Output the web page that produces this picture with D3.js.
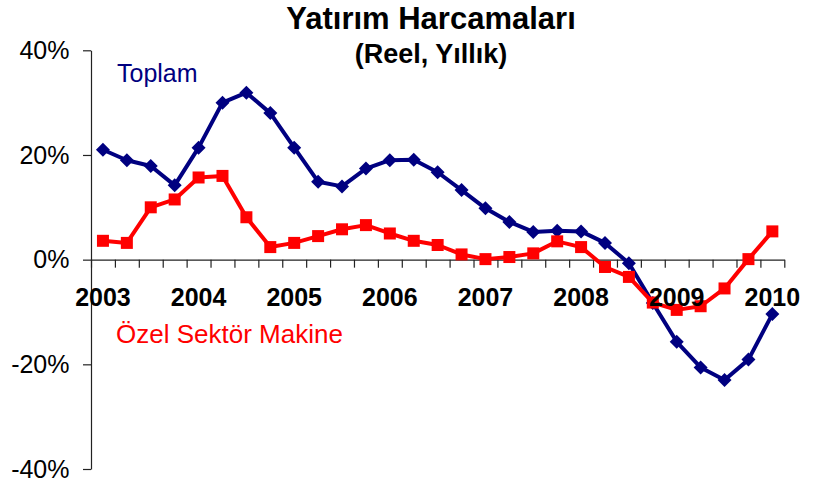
<!DOCTYPE html>
<html>
<head>
<meta charset="utf-8">
<script src="https://cdn.jsdelivr.net/npm/d3@7"></script>
<style>
  html, body { margin: 0; padding: 0; background: #fff; }
  svg { display: block; font-family: "Liberation Sans", Arial, sans-serif; }
</style>
</head>
<body>
<svg id="chart" width="815" height="486"></svg>
<script>
// ---- data ----
const categories = [
  "2003Q1","2003Q2","2003Q3","2003Q4",
  "2004Q1","2004Q2","2004Q3","2004Q4",
  "2005Q1","2005Q2","2005Q3","2005Q4",
  "2006Q1","2006Q2","2006Q3","2006Q4",
  "2007Q1","2007Q2","2007Q3","2007Q4",
  "2008Q1","2008Q2","2008Q3","2008Q4",
  "2009Q1","2009Q2","2009Q3","2009Q4",
  "2010Q1"
];
const toplam = [21.0, 19.0, 17.9, 14.2, 21.4, 30.0, 31.9, 28.0, 21.4, 14.9, 14.0, 17.4, 19.0, 19.1, 16.7, 13.3, 9.8, 7.2, 5.3, 5.5, 5.4, 3.2, -0.7, -8.3, -15.7, -20.6, -23.0, -19.1, -10.4];
const ozel = [3.6, 3.2, 10.0, 11.5, 15.7, 16.0, 8.1, 2.4, 3.2, 4.5, 5.8, 6.6, 5.0, 3.6, 2.8, 1.0, 0.1, 0.5, 1.2, 3.5, 2.4, -1.4, -3.3, -8.2, -9.6, -8.9, -5.5, 0.1, 5.4];
const yearLabels = ["2003","2004","2005","2006","2007","2008","2009","2010"];
const yearCategories = ["2003Q1","2004Q1","2005Q1","2006Q1","2007Q1","2008Q1","2009Q1","2010Q1"];
const yTicks = [-40, -20, 0, 20, 40];
const title = "Yatırım Harcamaları";
const subtitle = "(Reel, Yıllık)";
const seriesNames = ["Toplam", "Özel Sektör Makine"];

// ---- layout ----
const svg = d3.select("#chart");
const plotLeft = 91, plotRight = 784.3, plotTop = 50.3, plotBottom = 469;
const colBlue = "#000080", colRed = "#ff0000", axisCol = "#222";

const x = d3.scaleBand().domain(categories).range([plotLeft, plotRight]).padding(0);
const xc = c => x(c) + x.bandwidth() / 2;
const xBound = d3.scaleLinear().domain([0, categories.length]).range([plotLeft, plotRight]);
const y = d3.scaleLinear().domain([-40, 40]).range([plotBottom, plotTop]);

// y axis
const yAxis = svg.append("g")
  .attr("transform", `translate(${plotLeft},0)`)
  .call(d3.axisLeft(y).tickValues(yTicks).tickSize(8).tickSizeOuter(0).tickFormat(d => d + "%"));
yAxis.select(".domain").attr("stroke", axisCol).attr("stroke-width", 1.2);
yAxis.selectAll(".tick line").attr("stroke", axisCol).attr("stroke-width", 1.2);
yAxis.selectAll(".tick text")
  .attr("x", -21.5)
  .attr("dy", "0.33em")
  .attr("fill", "#000")
  .style("font-size", "25px")
  .style("font-family", "'Liberation Sans', Arial, sans-serif");

// x axis (category boundaries at zero line)
const xAxis = svg.append("g")
  .attr("transform", `translate(0,${y(0)})`)
  .call(d3.axisBottom(xBound).tickValues(d3.range(categories.length + 1)).tickSize(8).tickSizeOuter(0).tickFormat(""));
xAxis.select(".domain").attr("stroke", axisCol).attr("stroke-width", 1.2);
xAxis.selectAll(".tick line").attr("stroke", axisCol).attr("stroke-width", 1.2);

// lines
const line = d3.line().x((d, i) => xc(categories[i])).y(d => y(d));

svg.append("path").datum(toplam)
  .attr("d", line).attr("fill", "none")
  .attr("stroke", colBlue).attr("stroke-width", 4).attr("stroke-linejoin", "round");
svg.append("g").selectAll("path").data(toplam).join("path")
  .attr("transform", (d, i) => `translate(${xc(categories[i])},${y(d)})`)
  .attr("d", "M0,-7L7,0L0,7L-7,0Z")
  .attr("fill", colBlue);

svg.append("path").datum(ozel)
  .attr("d", line).attr("fill", "none")
  .attr("stroke", colRed).attr("stroke-width", 4).attr("stroke-linejoin", "round");
svg.append("g").selectAll("rect").data(ozel).join("rect")
  .attr("x", (d, i) => xc(categories[i]) - 6)
  .attr("y", d => y(d) - 6)
  .attr("width", 12).attr("height", 12)
  .attr("fill", colRed);

// year labels
svg.append("g").selectAll("text").data(yearLabels).join("text")
  .attr("x", (d, i) => xc(yearCategories[i]))
  .attr("y", 306)
  .attr("text-anchor", "middle")
  .style("font-size", "25px")
  .style("font-weight", "bold")
  .text(d => d);

// series labels
svg.append("text").attr("x", 117).attr("y", 81.5)
  .attr("fill", colBlue).style("font-size", "25px").text(seriesNames[0]);
svg.append("text").attr("x", 116).attr("y", 342.5)
  .attr("fill", colRed).style("font-size", "26px").text(seriesNames[1]);

// title
svg.append("text").attr("x", 431).attr("y", 28.5)
  .attr("text-anchor", "middle").style("font-size", "31px").style("font-weight", "bold")
  .text(title);
svg.append("text").attr("x", 431).attr("y", 62.5)
  .attr("text-anchor", "middle").style("font-size", "27px").style("font-weight", "bold")
  .text(subtitle);
</script>
</body>
</html>
